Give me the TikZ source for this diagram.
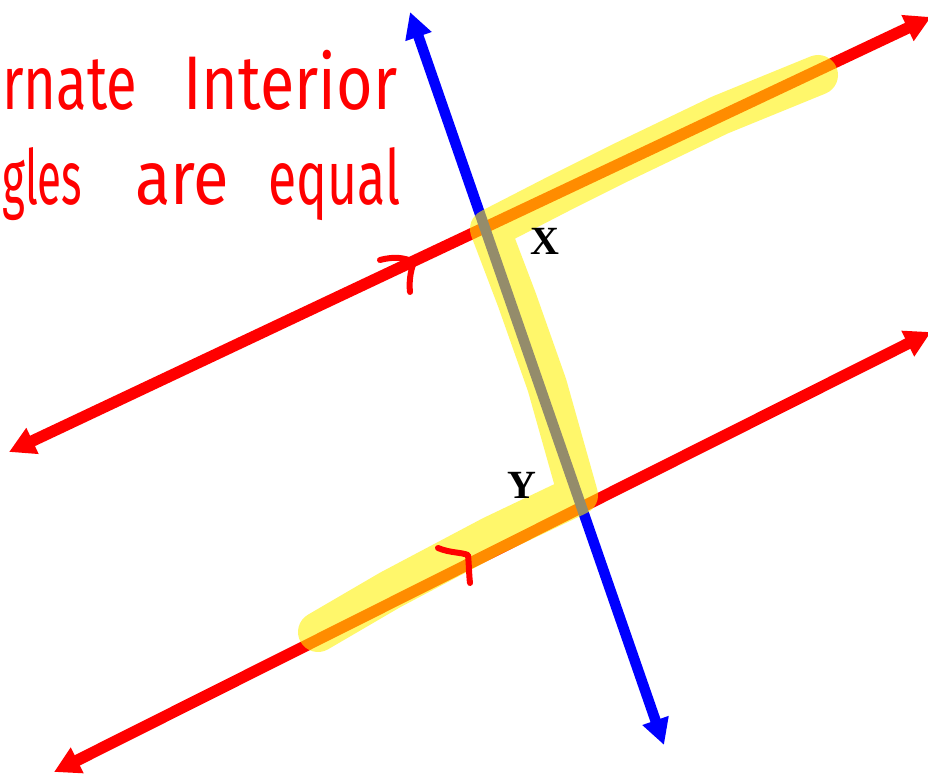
\documentclass[tikz,border=0pt]{standalone}
\usepackage{fontspec}
\setmainfont{Liberation Serif}
\newfontfamily\handfont{Fira Sans}
\usetikzlibrary{arrows.meta}
\newcommand{\fitw}[2]{\resizebox{#1}{\height}{#2}}
\begin{document}
\begin{tikzpicture}[x=1pt,y=-1pt,
  redline/.style={draw=red, line width=11.5pt, {Triangle[length=26pt,width=27pt]}-{Triangle[length=26pt,width=27pt]}},
  blueline/.style={draw=blue, line width=10.5pt, {Triangle[length=26pt,width=26pt]}-{Triangle[length=26pt,width=26pt]}},
  hl/.style={draw=yellow, line width=40pt, line cap=round, line join=round},
  tickmark/.style={draw=red, line width=6pt, line cap=round, line join=round},
  lbl/.style={font=\bfseries\fontsize{40}{40}\selectfont, inner sep=0pt, anchor=base},
  hand/.style={font=\handfont\fontsize{76}{76}\selectfont, text=red, inner sep=0pt, anchor=base west}]
\useasboundingbox (0,0) rectangle (928,775);
\clip (0,0) rectangle (928,775);
\fill[white] (0,0) rectangle (928,775);
% handwritten text
\node[hand] (w1) at (2,110) {\fitw{135pt}{rnate}};
\node[hand] (w2) at (183,110) {\fitw{214pt}{Interior}};
\node[hand] (w3) at (2,205) {\fitw{80pt}{gles}};
\node[hand] (w4) at (135,205) {\fitw{94pt}{are}};
\node[hand] (w5) at (268,205) {\fitw{132pt}{equal}};
% lines
\coordinate (A1) at (9,452);
\coordinate (A2) at (931,17);
\coordinate (B1) at (54,772);
\coordinate (B2) at (931,332);
\coordinate (T1) at (410,12);
\coordinate (T2) at (664,745);
\draw[redline] (A1) -- (A2);
\draw[redline] (B1) -- (B2);
\draw[blueline] (T1) -- (T2);
% highlighter
\begin{scope}[transparency group, opacity=0.58]
\draw[hl] (818,75) -- (720,115) -- (620,163) -- (560,193) -- (490,229)
  -- (517,300) -- (547,385) -- (578,495) -- (492,536) -- (390,590) -- (318,632);
\end{scope}
% parallel tick marks
\draw[tickmark] (380,260) .. controls (395,256) and (405,258) .. (414,262)
  .. controls (410,272) and (409,283) .. (410,292);
\draw[tickmark] (438,548) .. controls (450,553) and (460,552) .. (468,555)
  .. controls (469,565) and (469,575) .. (470,583);
% labels
\node[lbl] (X) at (545,255) {X};
\node[lbl] (Y) at (522,498) {Y};
\end{tikzpicture}
\end{document}
